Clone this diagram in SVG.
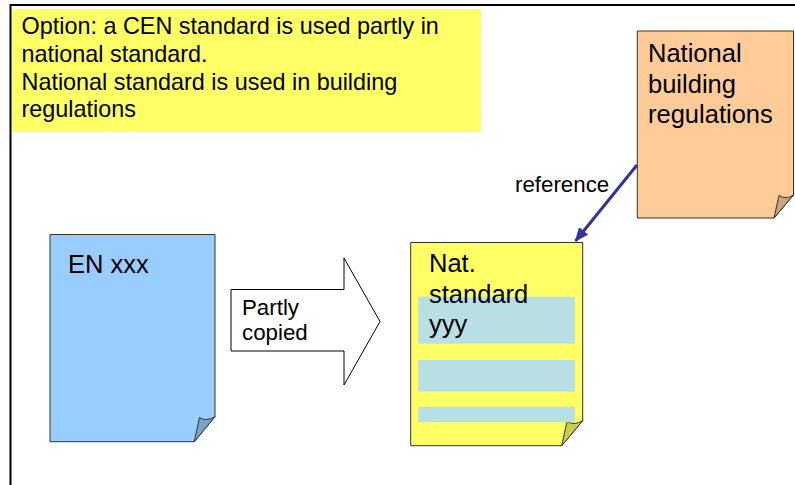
<svg xmlns="http://www.w3.org/2000/svg" width="795" height="485" viewBox="0 0 795 485">
<defs>
<style>
text{font-family:"Liberation Sans",Arial,sans-serif;fill:#000}
.doc{stroke:#333;stroke-width:1}
.fold{stroke:#333;stroke-width:1;stroke-linejoin:round}
.t23{font-size:23.4px}
.t25{font-size:25.5px}
.t22{font-size:22.3px}
</style>
<marker id="ah" markerWidth="14" markerHeight="12" refX="13" refY="6" orient="auto" markerUnits="userSpaceOnUse">
<path d="M0,0 L14,6 L0,12 Z" fill="#333399"/>
</marker>
</defs>
<rect x="0" y="0" width="795" height="485" fill="#fff"/>
<rect x="10.5" y="5" width="800" height="500" fill="none" stroke="#000" stroke-width="2"/>

<g id="note">
<rect x="12" y="9" width="469" height="123" fill="#FFFF66"/>
<text class="t23" x="21.5" y="34">Option: a CEN standard is used partly in</text>
<text class="t23" x="21.5" y="62">national standard.</text>
<text class="t23" x="21.5" y="89.5">National standard is used in building</text>
<text class="t23" x="21.5" y="117">regulations</text>
</g>

<g id="en-xxx">
<path class="doc" d="M50,234.5 H215 V416.7 L194.3,441.7 H50 Z" fill="#99CCFF"/>
<path class="fold" d="M194.3,441.7 L199.5,417.5 Q206,422 215,416.7 Z" fill="#7AA3CC"/>
<text class="t25" x="68" y="273">EN xxx</text>
</g>

<g id="nat-standard">
<path class="doc" d="M410.7,242.5 H582.7 V420.7 L561.7,445.7 H410.7 Z" fill="#FFFF66"/>
<path class="fold" d="M561.7,445.7 L567,421.5 Q574,426 582.7,420.7 Z" fill="#CCCC52"/>
<rect x="418.3" y="296.7" width="156.7" height="47" fill="#B8E0E4"/>
<rect x="418.3" y="360" width="156.7" height="31.7" fill="#B8E0E4"/>
<rect x="418.3" y="406.7" width="156.7" height="15.6" fill="#B8E0E4"/>
<text class="t25" x="429" y="272">Nat.</text>
<text class="t25" x="429" y="303">standard</text>
<text class="t25" x="429" y="333">yyy</text>
</g>

<g id="national-building-regulations">
<path class="doc" d="M637.3,31 H793.5 V195 L774,218 H637.3 Z" fill="#FFCC99"/>
<path class="fold" d="M774,218 L779,195.5 Q786,200 793.5,195 Z" fill="#CCA37A"/>
<text class="t25" x="648" y="62">National</text>
<text class="t25" x="648" y="92.5">building</text>
<text class="t25" x="648" y="123">regulations</text>
</g>

<g id="partly-copied">
<path d="M231,289.5 H344 V258 L380,321.5 L344,385 V351 H231 Z" fill="#fff" stroke="#000" stroke-width="1"/>
<text class="t22" x="242" y="315">Partly</text>
<text class="t22" x="242" y="340">copied</text>
</g>

<g id="connectors">
<line x1="637" y1="165" x2="575.5" y2="241" stroke="#333399" stroke-width="3" marker-end="url(#ah)"/>
<text class="t22" x="515" y="191.5">reference</text>
</g>
</svg>
